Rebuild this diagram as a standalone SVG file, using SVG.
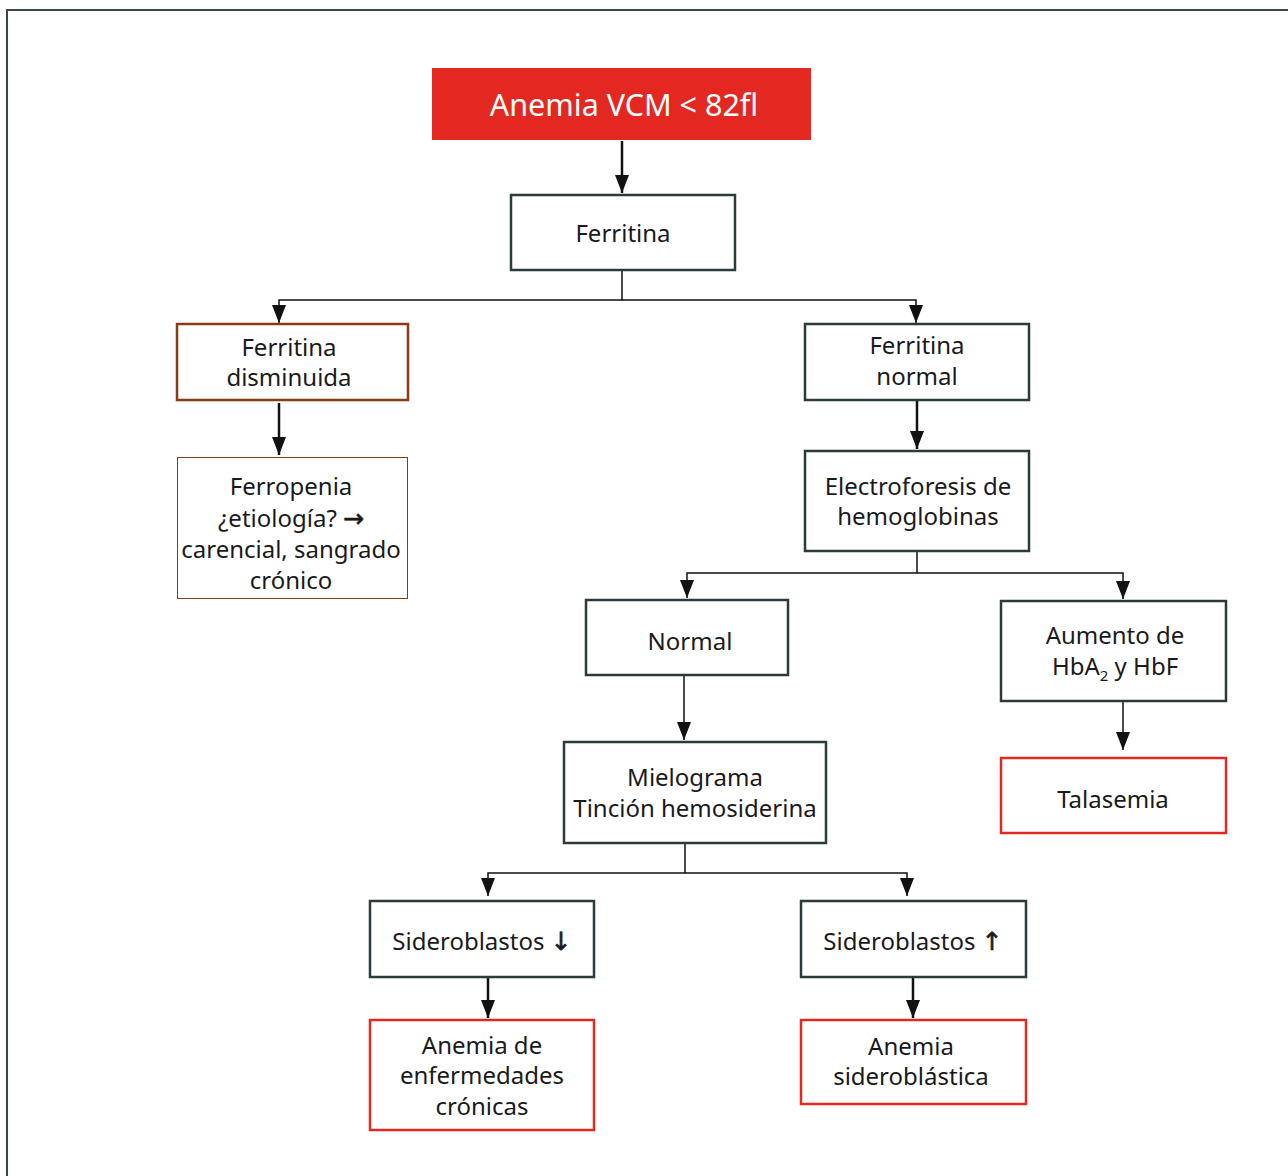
<svg xmlns="http://www.w3.org/2000/svg" width="1288" height="1176" viewBox="0 0 1288 1176">
<style>
.t{font-family:"Noto Sans","DejaVu Sans",sans-serif;font-size:24px;fill:#1a1a1a;text-anchor:middle}
.w{fill:#fff;font-size:30.5px}
.b{fill:#fff;stroke:#2b3a3a;stroke-width:2.5}
.r{fill:#fff;stroke:#e32822;stroke-width:2.5}
.c{fill:none;stroke:#111;stroke-width:1.5}
.k{fill:none;stroke:#111;stroke-width:2.5}
.ar{font-family:"DejaVu Sans",sans-serif;font-size:25px;stroke:#1a1a1a;stroke-width:0.6}
</style>
<defs>
<marker id="d" markerUnits="userSpaceOnUse" markerWidth="14" markerHeight="18" refX="7" refY="18" viewBox="0 0 14 18" orient="0">
<path d="M0,0 L14,0 L7,18 Z" fill="#111"/>
</marker>
</defs>
<rect width="1288" height="1176" fill="#fff"/>
<path d="M7,1176 V10 H1288" fill="none" stroke="#3a4848" stroke-width="2"/>
<g id="connectors">
<path class="k" d="M622,141 V193" marker-end="url(#d)"/>
<path class="c" d="M622,271 V300 H279 V323" marker-end="url(#d)"/>
<path class="c" d="M622,300 H916 V323" marker-end="url(#d)"/>
<path class="k" d="M279,403 V455" marker-end="url(#d)"/>
<path class="k" d="M917,401 V449" marker-end="url(#d)"/>
<path class="c" d="M917,552 V573 H687 V598" marker-end="url(#d)"/>
<path class="c" d="M917,573 H1123 V599" marker-end="url(#d)"/>
<path class="c" d="M684,676 V740" marker-end="url(#d)"/>
<path class="c" d="M1123,702 V750" marker-end="url(#d)"/>
<path class="c" d="M685,844 V873 H488 V896" marker-end="url(#d)"/>
<path class="c" d="M685,873 H907 V896" marker-end="url(#d)"/>
<path class="k" d="M488,978 V1018" marker-end="url(#d)"/>
<path class="k" d="M913,978 V1018" marker-end="url(#d)"/>
</g>
<g id="n-root"><rect x="432" y="68" width="379" height="72" fill="#e32822"/><text class="t w" x="624" y="116">Anemia VCM &lt; 82fl</text></g>
<g id="n-ferritina"><rect class="b" x="511" y="195" width="224" height="75"/><text class="t" x="623" y="242">Ferritina</text></g>
<g id="n-disminuida"><rect x="177" y="324" width="231" height="76" fill="#fff" stroke="#8b3a13" stroke-width="2.5"/><text class="t" x="289" y="356">Ferritina</text><text class="t" x="289" y="386">disminuida</text></g>
<g id="n-ferropenia"><rect x="177.5" y="457.5" width="230" height="141" fill="#fff" stroke="#8b3a13" stroke-width="1"/><text class="t" x="291" y="495">Ferropenia</text><text class="t" x="291" y="527">¿etiología? <tspan class="ar">→</tspan></text><text class="t" x="291" y="558">carencial, sangrado</text><text class="t" x="291" y="589">crónico</text></g>
<g id="n-normalf"><rect class="b" x="805" y="324" width="224" height="76"/><text class="t" x="917" y="354">Ferritina</text><text class="t" x="917" y="385">normal</text></g>
<g id="n-electro"><rect class="b" x="805" y="451" width="224" height="100"/><text class="t" x="918" y="495">Electroforesis de</text><text class="t" x="918" y="525">hemoglobinas</text></g>
<g id="n-normal"><rect class="b" x="586" y="600" width="202" height="75"/><text class="t" x="690" y="650">Normal</text></g>
<g id="n-aumento"><rect class="b" x="1001" y="601" width="225" height="100"/><text class="t" x="1115" y="644">Aumento de</text><text class="t" x="1115" y="675">HbA<tspan font-size="15" dy="6">2</tspan><tspan dy="-6"> y HbF</tspan></text></g>
<g id="n-talasemia"><rect class="r" x="1001" y="758" width="225" height="75"/><text class="t" x="1113" y="808">Talasemia</text></g>
<g id="n-mielograma"><rect class="b" x="564" y="742" width="262" height="101"/><text class="t" x="695" y="786">Mielograma</text><text class="t" x="695" y="817">Tinción hemosiderina</text></g>
<g id="n-sidero-down"><rect class="b" x="370" y="901" width="224" height="76"/><text class="t" x="482" y="950">Sideroblastos <tspan class="ar">↓</tspan></text></g>
<g id="n-sidero-up"><rect class="b" x="801" y="901" width="225" height="76"/><text class="t" x="913" y="950">Sideroblastos <tspan class="ar">↑</tspan></text></g>
<g id="n-aec"><rect class="r" x="370" y="1020" width="224" height="110"/><text class="t" x="482" y="1054">Anemia de</text><text class="t" x="482" y="1084">enfermedades</text><text class="t" x="482" y="1115">crónicas</text></g>
<g id="n-asid"><rect class="r" x="801" y="1020" width="225" height="84"/><text class="t" x="911" y="1055">Anemia</text><text class="t" x="911" y="1085">sideroblástica</text></g>
</svg>
